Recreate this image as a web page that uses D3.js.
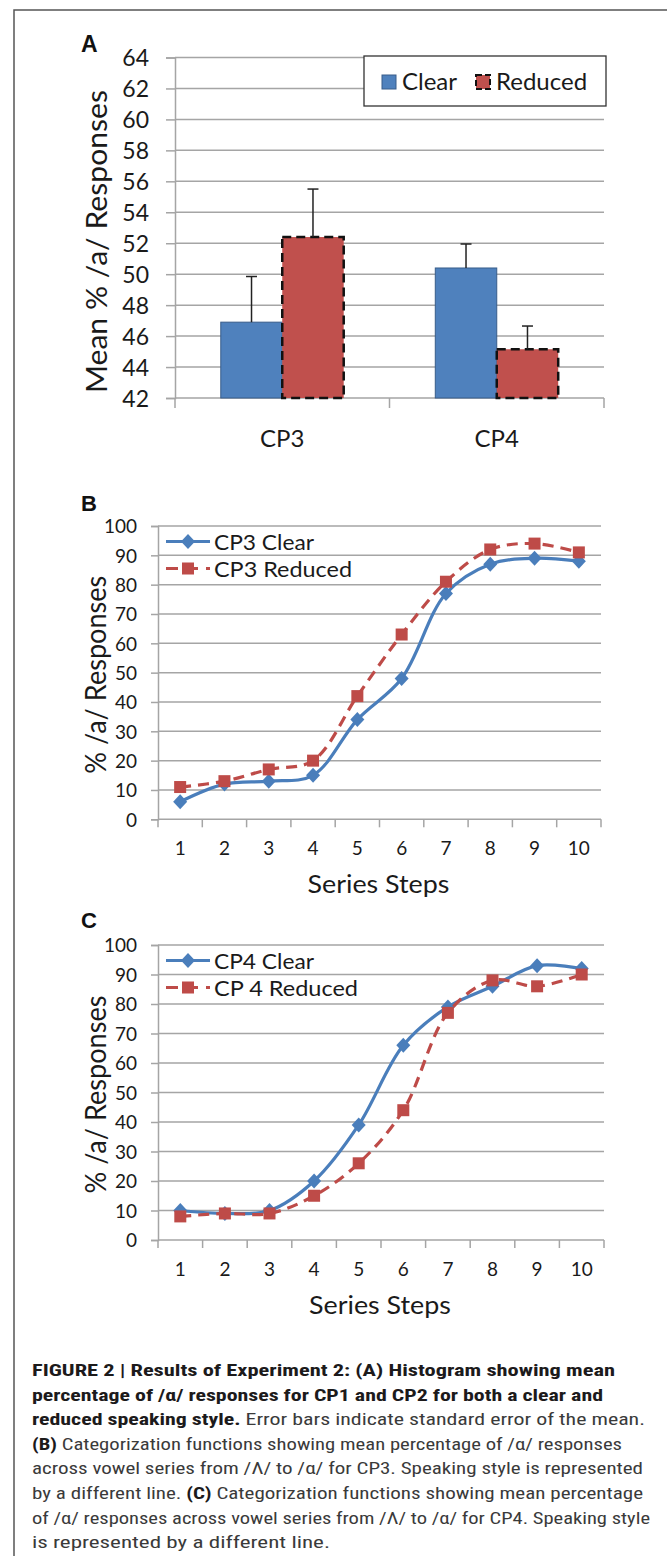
<!DOCTYPE html>
<html>
<head>
<meta charset="utf-8">
<script src="https://cdn.jsdelivr.net/npm/d3@7"></script>
<style>
  html, body { margin: 0; padding: 0; background: #fff; }
  svg { display: block; }
</style>
</head>
<body>
<script>
// ---------- DATA ----------
const barCategories = ["CP3", "CP4"];
const barSeries = ["Clear", "Reduced"];
const clearMeans = [46.9, 50.4];
const clearErrors = [2.95, 1.55];
const reducedMeans = [52.4, 45.15];
const reducedErrors = [3.1, 1.5];
const barTicks = [42, 44, 46, 48, 50, 52, 54, 56, 58, 60, 62, 64];

const steps = [1, 2, 3, 4, 5, 6, 7, 8, 9, 10];
const lineTicks = [0, 10, 20, 30, 40, 50, 60, 70, 80, 90, 100];
const cp3Clear = [6, 12, 13, 15, 34, 48, 77, 87, 89, 88];
const cp3Reduced = [11, 13, 17, 20, 42, 63, 81, 92, 94, 91];
const cp4Clear = [10, 9, 10, 20, 39, 66, 79, 86, 93, 92];
const cp4Reduced = [8, 9, 9, 15, 26, 44, 77, 88, 86, 90];
const legendB = ["CP3 Clear", "CP3 Reduced"];
const legendC = ["CP4 Clear", "CP 4 Reduced"];

const captionLines = [
  [["b", "FIGURE 2 | Results of Experiment 2: (A) Histogram showing mean"]],
  [["b", "percentage of /\u03b1/ responses for CP1 and CP2 for both a clear and"]],
  [["b", "reduced speaking style."], ["r", " Error bars indicate standard error of the mean."]],
  [["b", "(B)"], ["r", " Categorization functions showing mean percentage of /\u03b1/ responses"]],
  [["r", "across vowel series from /\u039b/ to /\u03b1/ for CP3. Speaking style is represented"]],
  [["r", "by a different line. "], ["b", "(C)"], ["r", " Categorization functions showing mean percentage"]],
  [["r", "of /\u03b1/ responses across vowel series from /\u039b/ to /\u03b1/ for CP4. Speaking style"]],
  [["r", "is represented by a different line."]]
];
const captionWidths = [583, 571, 613, 590, 611, 611, 618, 298];

// ---------- STYLE ----------
const FONT = "Lato, 'Open Sans', sans-serif";
const BLUE = "#4F81BD", BLUE_EDGE = "#385D8A", RED = "#C0504D";
const LBLUE = "#4A7EBB", LRED = "#BE4B48";
const GRID = "#A5A5A5", TXT = "#1a1a1a";

const W = 667, H = 1556;
const svg = d3.select("body").append("svg").attr("width", W).attr("height", H)
  .attr("font-family", FONT);
svg.append("rect").attr("width", W).attr("height", H).attr("fill", "#fff");

// frame
svg.append("path").attr("d", `M14,${H} L14,10 L${W},10`)
  .attr("fill", "none").attr("stroke", "#555").attr("stroke-width", 1.5);

// ---------- PANEL A ----------
{
  const g = svg.append("g");
  const x0 = d3.scaleBand().domain(barCategories).range([175, 604]);
  const x1 = d3.scaleBand().domain(barSeries).range([0, x0.bandwidth()]).paddingOuter(0.745);
  const y = d3.scaleLinear().domain([42, 64]).range([398, 57.5]);

  g.append("g").selectAll("line").data(barTicks.slice(1)).join("line")
    .attr("x1", 175).attr("x2", 604).attr("y1", d => y(d)).attr("y2", d => y(d))
    .attr("stroke", GRID).attr("stroke-width", 1.5);

  const ya = g.append("g").attr("transform", "translate(175,0)")
    .call(d3.axisLeft(y).tickValues(barTicks).tickSize(9).tickPadding(17).tickFormat(d3.format("d")));
  ya.select(".domain").attr("stroke", GRID).attr("stroke-width", 1.5);
  ya.selectAll(".tick line").attr("stroke", GRID).attr("stroke-width", 1.5);
  ya.selectAll(".tick text").attr("font-size", 23).attr("fill", TXT).attr("font-family", FONT).attr("dy", "0.36em");

  const xa = g.append("g").attr("transform", "translate(0,398)");
  xa.append("line").attr("x1", 175).attr("x2", 604).attr("stroke", GRID).attr("stroke-width", 1.5);
  const bounds = barCategories.map(c => x0(c)).concat([x0.range()[1]]);
  xa.selectAll("line.tk").data(bounds).join("line").attr("class", "tk")
    .attr("x1", d => d).attr("x2", d => d).attr("y1", 0).attr("y2", 10)
    .attr("stroke", GRID).attr("stroke-width", 1.5);
  xa.selectAll("text").data(barCategories).join("text")
    .attr("x", d => x0(d) + x0.bandwidth() / 2).attr("y", 49)
    .attr("text-anchor", "middle").attr("font-size", 24).attr("fill", TXT).text(d => d);

  const barData = [];
  barCategories.forEach((c, i) => {
    barData.push({ c, s: "Clear", v: clearMeans[i], e: clearErrors[i] });
    barData.push({ c, s: "Reduced", v: reducedMeans[i], e: reducedErrors[i] });
  });
  g.selectAll("rect.bar").data(barData).join("rect").attr("class", "bar")
    .attr("x", d => x0(d.c) + x1(d.s)).attr("width", x1.bandwidth())
    .attr("y", d => y(d.v)).attr("height", d => y(42) - y(d.v))
    .attr("fill", d => d.s === "Clear" ? BLUE : RED)
    .attr("stroke", d => d.s === "Clear" ? BLUE_EDGE : "#111")
    .attr("stroke-width", d => d.s === "Clear" ? 1 : 2.5)
    .attr("stroke-dasharray", d => d.s === "Clear" ? null : "9,5");

  const eb = g.selectAll("g.eb").data(barData).join("g").attr("class", "eb");
  eb.append("line")
    .attr("x1", d => x0(d.c) + x1(d.s) + x1.bandwidth() / 2)
    .attr("x2", d => x0(d.c) + x1(d.s) + x1.bandwidth() / 2)
    .attr("y1", d => y(d.v)).attr("y2", d => y(d.v + d.e))
    .attr("stroke", "#222").attr("stroke-width", 1.5);
  eb.append("line")
    .attr("x1", d => x0(d.c) + x1(d.s) + x1.bandwidth() / 2 - 5.5)
    .attr("x2", d => x0(d.c) + x1(d.s) + x1.bandwidth() / 2 + 5.5)
    .attr("y1", d => y(d.v + d.e)).attr("y2", d => y(d.v + d.e))
    .attr("stroke", "#222").attr("stroke-width", 1.5);

  const lg = g.append("g");
  lg.append("rect").attr("x", 364).attr("y", 56).attr("width", 242).attr("height", 50)
    .attr("fill", "#fff").attr("stroke", "#333").attr("stroke-width", 1.3);
  const legX = [382, 476];
  barSeries.forEach((s, i) => {
    lg.append("rect").attr("x", legX[i]).attr("y", 75).attr("width", 14).attr("height", 14)
      .attr("fill", i === 0 ? BLUE : RED)
      .attr("stroke", i === 0 ? BLUE_EDGE : "#111")
      .attr("stroke-width", i === 0 ? 1 : 2)
      .attr("stroke-dasharray", i === 0 ? null : "6,3");
    lg.append("text").attr("x", legX[i] + 20).attr("y", 90).attr("font-size", 24)
      .attr("fill", TXT).text(s);
  });

  g.append("text").attr("transform", "translate(107,241.5) rotate(-90)")
    .attr("text-anchor", "middle").attr("font-size", 29).attr("fill", TXT)
    .attr("textLength", 303).attr("lengthAdjust", "spacingAndGlyphs")
    .text("Mean % /a/ Responses");

  g.append("text").attr("x", 81).attr("y", 52).attr("font-family", "'Liberation Sans', Arial, sans-serif")
    .attr("font-weight", "bold").attr("font-size", 23).attr("fill", "#111").text("A");
}

// ---------- LINE PANELS ----------
function linePanel(opt) {
  const g = svg.append("g");
  const { x0, x1, yTop, yBot, series, names, label, labelY } = opt;
  const xb = d3.scaleBand().domain(steps).range([x0, x1]);
  const xp = d3.scalePoint().domain(steps).range([x0, x1]).padding(0.5);
  const y = d3.scaleLinear().domain([0, 100]).range([yBot, yTop]);

  g.append("g").selectAll("line").data(lineTicks.slice(1)).join("line")
    .attr("x1", x0).attr("x2", x1).attr("y1", d => y(d)).attr("y2", d => y(d))
    .attr("stroke", GRID).attr("stroke-width", 1.5);

  const ya = g.append("g").attr("transform", `translate(${x0},0)`)
    .call(d3.axisLeft(y).tickValues(lineTicks).tickSize(7).tickPadding(14));
  ya.select(".domain").attr("stroke", GRID).attr("stroke-width", 1.5);
  ya.selectAll(".tick line").attr("stroke", GRID).attr("stroke-width", 1.5);
  ya.selectAll(".tick text").attr("font-size", 19).attr("fill", TXT).attr("font-family", FONT).attr("dy", "0.36em");

  const xa = g.append("g").attr("transform", `translate(0,${yBot})`);
  xa.append("line").attr("x1", x0).attr("x2", x1).attr("stroke", GRID).attr("stroke-width", 1.5);
  const bounds = steps.map(s => xb(s)).concat([x1]);
  xa.selectAll("line.tk").data(bounds).join("line").attr("class", "tk")
    .attr("x1", d => d).attr("x2", d => d).attr("y1", 0).attr("y2", 8)
    .attr("stroke", GRID).attr("stroke-width", 1.5);
  xa.selectAll("text").data(steps).join("text")
    .attr("x", d => xp(d)).attr("y", 36).attr("text-anchor", "middle")
    .attr("font-size", 19).attr("fill", TXT).text(d => d);

  g.append("text").attr("x", (x0 + x1) / 2 - 1).attr("y", yBot + 74).attr("text-anchor", "middle")
    .attr("font-size", 25).attr("fill", TXT)
    .attr("textLength", 142).attr("lengthAdjust", "spacingAndGlyphs").text("Series Steps");

  g.append("text").attr("transform", `translate(106,${(yTop + yBot) / 2 + 2}) rotate(-90)`)
    .attr("text-anchor", "middle").attr("font-size", 28).attr("fill", TXT)
    .attr("textLength", 198).attr("lengthAdjust", "spacingAndGlyphs")
    .text("% /a/ Responses");

  g.append("text").attr("x", 81).attr("y", labelY).attr("font-family", "'Liberation Sans', Arial, sans-serif")
    .attr("font-weight", "bold").attr("font-size", 22).attr("fill", "#111").text(label);

  const line = d3.line().x((d, i) => xp(steps[i])).y(d => y(d)).curve(d3.curveCatmullRom.alpha(0.5));
  const diamond = (cx, cy) => `M${cx},${cy - 7.5}L${cx + 7},${cy}L${cx},${cy + 7.5}L${cx - 7},${cy}Z`;

  g.append("path").datum(series[0]).attr("d", line).attr("fill", "none")
    .attr("stroke", LBLUE).attr("stroke-width", 3.2);
  g.selectAll("path.dm").data(series[0]).join("path").attr("class", "dm")
    .attr("d", (d, i) => diamond(xp(steps[i]), y(d))).attr("fill", LBLUE);
  g.append("path").datum(series[1]).attr("d", line).attr("fill", "none")
    .attr("stroke", LRED).attr("stroke-width", 3.2).attr("stroke-dasharray", "11,7");
  g.selectAll("rect.sq").data(series[1]).join("rect").attr("class", "sq")
    .attr("x", (d, i) => xp(steps[i]) - 6).attr("y", d => y(d) - 6)
    .attr("width", 12).attr("height", 12).attr("fill", LRED);

  // legend (no background: gridlines show through)
  const ly = [yTop + 15.5, yTop + 42.5];
  const lx0 = x0 + 8, lx1 = x0 + 52, lxm = x0 + 30;
  g.append("line").attr("x1", lx0).attr("x2", lx1).attr("y1", ly[0]).attr("y2", ly[0])
    .attr("stroke", LBLUE).attr("stroke-width", 3.2);
  g.append("path").attr("d", diamond(lxm, ly[0])).attr("fill", LBLUE);
  g.append("line").attr("x1", lx0).attr("x2", lx1).attr("y1", ly[1]).attr("y2", ly[1])
    .attr("stroke", LRED).attr("stroke-width", 3.2).attr("stroke-dasharray", "12,8");
  g.append("rect").attr("x", lxm - 6).attr("y", ly[1] - 6).attr("width", 12).attr("height", 12).attr("fill", LRED);
  names.forEach((n, i) => {
    g.append("text").attr("x", x0 + 56).attr("y", ly[i] + 8).attr("font-size", 22)
      .attr("fill", TXT).attr("textLength", opt.nameW[i]).attr("lengthAdjust", "spacingAndGlyphs").text(n);
  });
}

linePanel({ x0: 158, x1: 601, yTop: 526, yBot: 819.3, series: [cp3Clear, cp3Reduced], names: legendB,
  nameW: [100, 138], label: "B", labelY: 511 });
linePanel({ x0: 158, x1: 604, yTop: 945, yBot: 1240, series: [cp4Clear, cp4Reduced], names: legendC,
  nameW: [100, 144], label: "C", labelY: 928 });

// ---------- CAPTION ----------
{
  const cg = svg.append("g").attr("font-family", "'Liberation Sans Narrow', 'Roboto Condensed', Roboto, 'Arial Narrow', sans-serif");
  captionLines.forEach((parts, i) => {
    const t = cg.append("text").attr("x", 32).attr("y", 1376 + i * 24.6).attr("font-size", 17)
      .attr("textLength", captionWidths[i]).attr("lengthAdjust", "spacingAndGlyphs");
    parts.forEach(([w, s]) => {
      t.append("tspan").attr("font-weight", w === "b" ? "bold" : "normal")
        .attr("fill", w === "b" ? "#1c1a1b" : "#3a3a3a").text(s);
    });
  });
}
</script>
</body>
</html>
